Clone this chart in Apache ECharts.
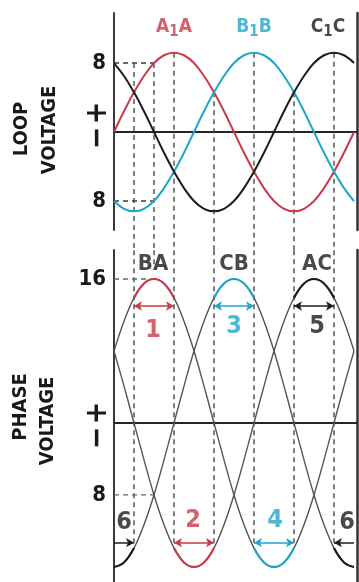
<!DOCTYPE html>
<html>
<head>
<meta charset="utf-8">
<script src="https://cdn.jsdelivr.net/npm/echarts@6/dist/echarts.min.js"></script>
<style>
html, body { margin: 0; padding: 0; background: #fff; }
#chart { width: 359px; height: 582px; }
</style>
</head>
<body>
<div id="chart"></div>
<script>
// rotation angle, degrees (15 deg steps)
var theta = [0, 15, 30, 45, 60, 75, 90, 105, 120, 135, 150, 165, 180, 195, 210, 225, 240, 255, 270, 285, 300, 315, 330, 345, 360];

// loop voltages (top panel)
var loopA = [0, 2.4, 4.6, 6.5, 8.0, 8.9, 9.2, 8.9, 8.0, 6.5, 4.6, 2.4, 0, -2.4, -4.6, -6.5, -8.0, -8.9, -9.2, -8.9, -8.0, -6.5, -4.6, -2.4, 0];
var loopB = [-8.0, -8.9, -9.2, -8.9, -8.0, -6.5, -4.6, -2.4, 0, 2.4, 4.6, 6.5, 8.0, 8.9, 9.2, 8.9, 8.0, 6.5, 4.6, 2.4, 0, -2.4, -4.6, -6.5, -8.0];
var loopC = [8.0, 6.5, 4.6, 2.4, 0, -2.4, -4.6, -6.5, -8.0, -8.9, -9.2, -8.9, -8.0, -6.5, -4.6, -2.4, 0, 2.4, 4.6, 6.5, 8.0, 8.9, 9.2, 8.9, 8.0];

// phase voltages (bottom panel)
var phaseBA = [8.0, 11.3, 13.9, 15.5, 16, 15.5, 13.9, 11.3, 8.0, 4.1, 0, -4.1, -8.0, -11.3, -13.9, -15.5, -16, -15.5, -13.9, -11.3, -8.0, -4.1, 0, 4.1, 8.0];
var phaseCB = [-16, -15.5, -13.9, -11.3, -8.0, -4.1, 0, 4.1, 8.0, 11.3, 13.9, 15.5, 16, 15.5, 13.9, 11.3, 8.0, 4.1, 0, -4.1, -8.0, -11.3, -13.9, -15.5, -16];
var phaseAC = [8.0, 4.1, 0, -4.1, -8.0, -11.3, -13.9, -15.5, -16, -15.5, -13.9, -11.3, -8.0, -4.1, 0, 4.1, 8.0, 11.3, 13.9, 15.5, 16, 15.5, 13.9, 11.3, 8.0];

// tick labels
var loopTicks = [8, -8];
var phaseTicks = [16, -8];

// loop names
var loopNames = ['A', 'B', 'C'];
var loopNameX = [90, 210, 321];
var loopNameY = 12.2;

// phase names
var phaseNames = ['BA', 'CB', 'AC'];
var phaseNameX = [58.5, 180, 304.5];
var phaseNameY = 17.6;

// numbered arcs
var arcNames = ['1', '2', '3', '4', '5', '6', '6'];
var arcCurve = [phaseBA, phaseAC, phaseCB, phaseBA, phaseAC, phaseCB, phaseCB];
var arcFrom = [30, 90, 150, 210, 270, 360, 0];
var arcTo = [90, 150, 210, 270, 330, 330, 30];
var arcArrowY = [13.0, -13.3, 13.0, -13.3, 13.0, -13.3, -13.3];
var arcLabelX = [58.5, 118.5, 180, 241.5, 304.5, 349.5, 15];
var arcLabelY = [10.3, -10.8, 10.7, -10.8, 10.7, -11.1, -11.1];

// dashed guides [angle, from, to]
var guideTop = [[30, 8, -13.7], [60, 8, -13.7], [90, 9.2, -13.7], [150, 4.6, -13.7], [210, 9.2, -13.7], [270, 4.6, -13.7], [330, 9.2, -13.7]];
var guideBottom = [[30, 19.2, -13.3], [60, 19.2, 17.6], [90, 19.2, -13.3], [150, 19.2, -13.3], [210, 19.2, -13.3], [270, 19.2, -13.3], [330, 19.2, -13.3]];
var levelTop = [[8, 0, 60], [-8, 0, 60]];
var levelBottom = [[16, 0, 50], [-8, 0, 60]];

var RED = '#c93a4a', CYAN = '#1fa5cc', BLACK = '#1c1c1c', GRAY = '#555';
var loopColors = [RED, CYAN, BLACK];
var arcColors = [RED, RED, CYAN, CYAN, BLACK, BLACK, BLACK];
var FONT = '"DejaVu Sans Condensed", sans-serif';
var INK = '#1d1813';

function zip(xs, ys) {
    return xs.map(function (x, i) { return [x, ys[i]]; });
}

var myChart = echarts.init(document.getElementById('chart'));

var series = [];

// guides
guideTop.forEach(function (g) {
    series.push({
        type: 'line', xAxisIndex: 0, yAxisIndex: 0, clip: false, silent: true, z: 1, symbol: 'none',
        lineStyle: {color: '#3c3c3c', width: 1.3, type: [5, 4]},
        data: [[g[0], g[1]], [g[0], g[2]]]
    });
});
levelTop.forEach(function (g) {
    series.push({
        type: 'line', xAxisIndex: 0, yAxisIndex: 0, silent: true, z: 1, symbol: 'none',
        lineStyle: {color: '#3c3c3c', width: 1.3, type: [5, 4]},
        data: [[g[1], g[0]], [g[2], g[0]]]
    });
});
guideBottom.forEach(function (g) {
    series.push({
        type: 'line', xAxisIndex: 1, yAxisIndex: 2, clip: false, silent: true, z: 1, symbol: 'none',
        lineStyle: {color: '#3c3c3c', width: 1.3, type: [5, 4]},
        data: [[g[0], g[1]], [g[0], g[2]]]
    });
});
levelBottom.forEach(function (g) {
    series.push({
        type: 'line', xAxisIndex: 1, yAxisIndex: 2, silent: true, z: 1, symbol: 'none',
        lineStyle: {color: '#4d6f78', width: 1.3, type: [5, 4]},
        data: [[g[1], g[0]], [g[2], g[0]]]
    });
});

// loop curves
[loopA, loopB, loopC].forEach(function (vals, i) {
    series.push({
        type: 'line', xAxisIndex: 0, yAxisIndex: 0, smooth: 0.4, symbol: 'none', z: 3,
        lineStyle: {color: loopColors[i], width: 2},
        data: zip(theta, vals)
    });
});

// phase curves
[phaseBA, phaseCB, phaseAC].forEach(function (vals) {
    series.push({
        type: 'line', xAxisIndex: 1, yAxisIndex: 2, smooth: 0.4, symbol: 'none', z: 2,
        lineStyle: {color: GRAY, width: 1.4},
        data: zip(theta, vals)
    });
});

// coloured arcs with arrows
arcNames.forEach(function (name, i) {
    var lo = Math.min(arcFrom[i], arcTo[i]), hi = Math.max(arcFrom[i], arcTo[i]);
    var pts = [];
    theta.forEach(function (t, k) {
        if (t >= lo && t <= hi) pts.push([t, arcCurve[i][k]]);
    });
    var oneWay = name === '6';
    series.push({
        type: 'line', xAxisIndex: 1, yAxisIndex: 2, smooth: 0.4, symbol: 'none', z: 4,
        lineStyle: {color: arcColors[i], width: 2.2},
        data: pts,
        markLine: {
            silent: true,
            symbol: oneWay ? ['none', 'arrow'] : ['arrow', 'arrow'],
            symbolSize: [7, 8],
            label: {show: false},
            lineStyle: {color: arcColors[i], width: 1.5, type: 'solid'},
            data: [[{coord: [arcFrom[i], arcArrowY[i]]}, {coord: [arcTo[i], arcArrowY[i]]}]]
        }
    });
});

// top names A1A ...
series.push({
    type: 'scatter', xAxisIndex: 0, yAxisIndex: 0, symbolSize: 0, z: 6, silent: true,
    data: loopNames.map(function (n, i) {
        return {
            value: [loopNameX[i], loopNameY],
            label: {
                show: true, position: 'inside',
                formatter: '{t|' + n + '}{s|1}{t|' + n + '}',
                rich: {
                    t: {fontFamily: FONT, fontWeight: 'bold', fontSize: 19, color: loopColors[i]},
                    s: {fontFamily: FONT, fontWeight: 'bold', fontSize: 15, color: loopColors[i], padding: [10, 0, 0, 0], verticalAlign: 'bottom'}
                }
            }
        };
    })
});

// phase names
series.push({
    type: 'scatter', xAxisIndex: 1, yAxisIndex: 2, symbolSize: 0, z: 6, silent: true,
    label: {show: true, position: 'inside', fontFamily: FONT, fontWeight: 'bold', fontSize: 22, color: BLACK,
        formatter: function (p) { return p.name; }},
    data: phaseNames.map(function (n, i) { return {name: n, value: [phaseNameX[i], phaseNameY]}; })
});

// arc numbers
series.push({
    type: 'scatter', xAxisIndex: 1, yAxisIndex: 2, symbolSize: 0, z: 6, silent: true,
    data: arcNames.map(function (n, i) {
        return {
            name: n, value: [arcLabelX[i], arcLabelY[i]],
            label: {show: true, position: 'inside', fontFamily: FONT, fontWeight: 'bold', fontSize: 25,
                color: arcColors[i], formatter: n}
        };
    })
});

function valueAxis(grid, min, max, ticks) {
    return {
        type: 'value', gridIndex: grid, min: min, max: max,
        axisLine: {show: true, lineStyle: {color: '#3a3a3a', width: 2}},
        axisTick: {show: false},
        splitLine: {show: false},
        axisLabel: {
            show: true, customValues: ticks, margin: 8,
            fontFamily: FONT, fontWeight: 'bold', fontSize: 22, color: INK,
            formatter: function (v) { return String(Math.abs(v)); }
        }
    };
}
function rightAxis(grid, min, max) {
    return {
        type: 'value', gridIndex: grid, position: 'right', min: min, max: max,
        axisLine: {show: true, lineStyle: {color: '#333', width: 2.5}},
        axisTick: {show: false}, splitLine: {show: false}, axisLabel: {show: false}
    };
}
function angleAxis(grid) {
    return {
        type: 'value', gridIndex: grid, min: 0, max: 364.5,
        axisLine: {show: true, onZero: true, lineStyle: {color: '#262626', width: 2}},
        axisTick: {show: false}, splitLine: {show: false}, axisLabel: {show: false}
    };
}

function sideText(text, x, y, size) {
    return {
        type: 'text', x: x, y: y, rotation: Math.PI / 2, silent: true,
        style: {text: text, fill: INK, font: 'bold ' + size + 'px ' + FONT, align: 'center', verticalAlign: 'middle'}
    };
}

var option = {
    backgroundColor: '#fff',
    animation: false,
    grid: [
        {left: 114, top: 13, width: 243, height: 217},
        {left: 114, top: 250, width: 243, height: 332}
    ],
    xAxis: [angleAxis(0), angleAxis(1)],
    yAxis: [
        valueAxis(0, -11.36, 13.8, loopTicks),
        rightAxis(0, -11.36, 13.8),
        valueAxis(1, -17.67, 19.22, phaseTicks),
        rightAxis(1, -17.67, 19.22)
    ],
    graphic: [
        sideText('LOOP', 22, 129, 20),
        sideText('VOLTAGE', 50, 130, 20),
        sideText('+', 98, 113, 30),
        sideText('\u2212', 98, 138, 30),
        sideText('PHASE', 21, 407, 20),
        sideText('VOLTAGE', 48, 421, 20),
        sideText('+', 98, 413, 30),
        sideText('\u2212', 98, 438, 30)
    ],
    series: series
};

myChart.setOption(option);
</script>
</body>
</html>
